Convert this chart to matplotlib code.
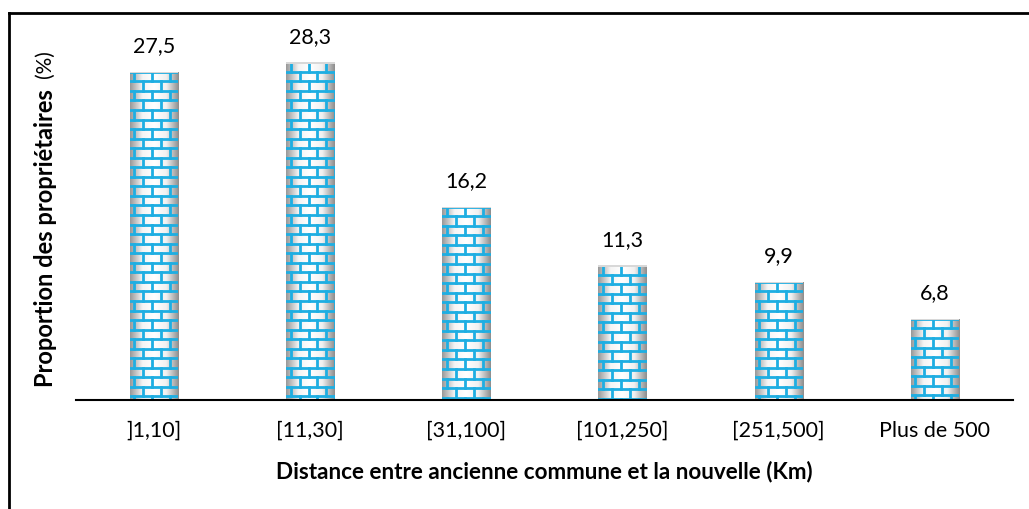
import numpy as np
import matplotlib.pyplot as plt
from matplotlib.patches import Rectangle
from matplotlib.lines import Line2D
from matplotlib.colors import LinearSegmentedColormap

categories = [']1,10]', '[11,30]', '[31,100]', '[101,250]', '[251,500]', 'Plus de 500']
values = [27.5, 28.3, 16.2, 11.3, 9.9, 6.8]
labels = ['27,5', '28,3', '16,2', '11,3', '9,9', '6,8']

plt.rcParams['font.family'] = ['Lato', 'DejaVu Sans']

fig = plt.figure(figsize=(10.29, 5.09), dpi=100)
ax = fig.add_axes([0.0739, 0.2141, 0.9106, 0.7034])
ax.set_xlim(-0.5, 5.5)
ax.set_ylim(0, 30)

mortar = '#1eaee2'
shade = LinearSegmentedColormap.from_list('shade', ['#9a9a9a', '#f4f4f4', '#ffffff', '#f0f0f0', '#8f8f8f'])
grad = np.linspace(0, 1, 64).reshape(1, -1)

w = 0.31
row_h = 0.8
brick_w = w / 2.7

bars = ax.bar(range(len(values)), values, width=w, color='white', edgecolor='none', zorder=2)
for i, (b, v) in enumerate(zip(bars, values)):
    x0 = b.get_x()
    x1 = x0 + w
    im = ax.imshow(grad, cmap=shade, extent=[x0, x1, 0, v], aspect='auto', zorder=2.5)
    im.set_clip_path(b)
    # brick mortar lines
    n_rows = int(np.ceil(v / row_h))
    for r in range(n_rows + 1):
        y = v - r * row_h
        ln = Line2D([x0, x1], [y, y], color=mortar, lw=2.0, zorder=3)
        ax.add_line(ln)
        ln.set_clip_path(b)
    for r in range(n_rows):
        ytop = v - r * row_h
        ybot = ytop - row_h
        off = brick_w * 0.25 if r % 2 == 0 else brick_w * 0.75
        xs = np.arange(x0 + off, x1 + brick_w, brick_w)
        for xv in xs:
            ln = Line2D([xv, xv], [ybot, ytop], color=mortar, lw=2.0, zorder=3)
            ax.add_line(ln)
            ln.set_clip_path(b)
    # bevel on top edge
    top = Rectangle((x0, v - 0.12), w, 0.12, facecolor='#d8d8d8', edgecolor='none', zorder=3.5)
    ax.add_patch(top)
    ax.text(i, v + 1.3, labels[i], ha='center', va='bottom', fontsize=15.5)

ax.set_xticks(range(len(categories)))
ax.set_xticklabels(categories, fontsize=15.5)
ax.tick_params(axis='x', length=0, pad=15)
ax.set_yticks([])
for s in ['top', 'right', 'left']:
    ax.spines[s].set_visible(False)
ax.spines['bottom'].set_linewidth(1.5)
ax.spines['bottom'].set_zorder(4)

ax.set_xlabel('Distance entre ancienne commune et la nouvelle (Km)', fontsize=16.2,
              fontweight='bold', labelpad=14)
fig.text(0.044, (509 - 387) / 509, 'Proportion des propriétaires', rotation=90, ha='center',
         va='bottom', fontsize=17, fontweight='bold')
fig.text(0.044, (509 - 78) / 509, '(%)', rotation=90, ha='center', va='bottom', fontsize=15)

# outer frame
fig.add_artist(Line2D([9 / 1029, 1.0], [1 - 13 / 509, 1 - 13 / 509], color='black', lw=2,
                      transform=fig.transFigure))
fig.add_artist(Line2D([9 / 1029, 9 / 1029], [0, 1 - 13 / 509], color='black', lw=2,
                      transform=fig.transFigure))

fig.savefig('out.png', dpi=100)
